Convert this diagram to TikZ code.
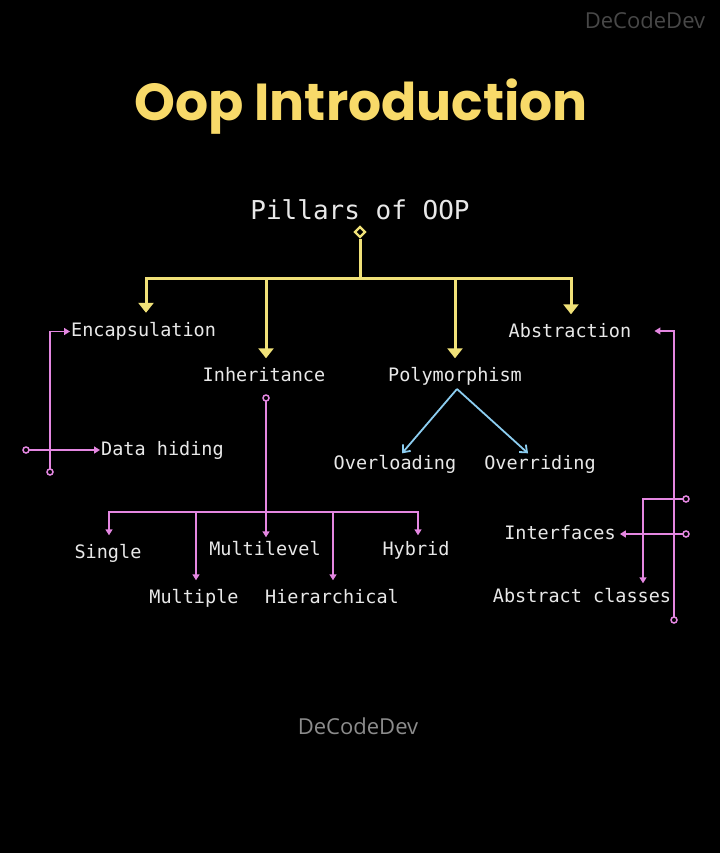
\documentclass[tikz,border=0pt]{standalone}
\usepackage{fontspec}
\usetikzlibrary{arrows.meta,shapes.geometric,calc}
\newfontfamily\monof{DejaVu Sans Mono}
\newfontfamily\titlef{Poppins}
\newfontfamily\wmf{Open Sans}
\definecolor{ttl}{RGB}{248,218,105}
\definecolor{yl}{RGB}{240,225,120}
\definecolor{pk}{RGB}{228,135,225}
\definecolor{bl}{RGB}{140,205,240}
\definecolor{tx}{RGB}{232,232,232}
\tikzset{
  lbl/.style={text=tx,font=\monof\fontsize{18.5}{21}\selectfont,inner sep=1pt,text height=13pt,text depth=4pt,yshift=-2pt},
  yline/.style={draw=yl,line width=3pt},
  yarr/.style={draw=yl,line width=3pt,-{Triangle[length=10pt,width=15pt]}},
  pline/.style={draw=pk,line width=1.8pt},
  parr/.style={draw=pk,line width=1.8pt,-{Triangle[length=6pt,width=7pt]}},
  barr/.style={draw=bl,line width=1.8pt,-{Straight Barb[length=6pt,width=10pt]}},
  pdot/.style={draw=pk,line width=1.5pt,fill=black},
}
\begin{document}
\begin{tikzpicture}[x=1pt,y=-1pt]
\fill[black] (0,0) rectangle (720,853);
\useasboundingbox (0,0) rectangle (720,853);
% watermarks and title
\node[text={rgb,255:red,72;green,72;blue,72},font=\wmf\fontsize{22}{26}\selectfont] (wm1) at (645,20) {DeCodeDev};
\node[text={rgb,255:red,140;green,140;blue,140},font=\wmf\fontsize{22}{26}\selectfont] (wm2) at (358,726) {DeCodeDev};
\node[text=ttl,font=\titlef\bfseries\fontsize{52}{58}\selectfont] (title) at (361,107) {Oop Introduction};
% root
\node[lbl,font=\monof\fontsize{26}{30}\selectfont,text height=19pt,text depth=5pt] (root) at (360,210) {Pillars of OOP};
\node[diamond,draw=yl,line width=2.2pt,fill=black,minimum size=11pt,inner sep=0pt] (dia) at (360,232) {};
\coordinate (ybus) at (360,278);
% pillars
\node[lbl,anchor=west] (enc) at (70,329.5) {Encapsulation};
\node[lbl] (inh) at (264,375) {Inheritance};
\node[lbl] (poly) at (455,375) {Polymorphism};
\node[lbl] (abs) at (570,331) {Abstraction};
\draw[yline] (dia.south) -- (ybus);
\draw[yarr] (ybus) -| ($(enc.west|-enc.north)+(76,-9)$);
\draw[yarr] (ybus) -| ($(inh.north)+(2,-9)$);
\draw[yarr] (ybus) -| ($(poly.north)+(0,-9)$);
\draw[yarr] (ybus) -| ($(abs.north)+(1,-9)$);
% encapsulation
\node[lbl,anchor=west] (dh) at (100,449) {Data hiding};
\coordinate (encC) at (50,472);
\coordinate (dhC) at (26,450);
\draw[parr] (encC) |- (enc.west);
\draw[parr] (dhC) -- (dh.west|-dhC);
\fill[pdot] (encC) circle (3);
\fill[pdot] (dhC) circle (3);
% inheritance
\node[lbl] (single) at (108,552) {Single};
\node[lbl] (mult) at (194,597) {Multiple};
\node[lbl] (mlev) at (265,549) {Multilevel};
\node[lbl] (hier) at (332,597) {Hierarchical};
\node[lbl] (hyb) at (416,549) {Hybrid};
\coordinate (ihC) at (266,398);
\coordinate (ibus) at (266,512);
\draw[pline] (ihC) -- (ibus);
\draw[parr] (ibus) -| ($(single.north)+(1,-9)$);
\draw[parr] (ibus) -| ($(mult.north)+(2,-9)$);
\draw[parr] (ibus) -- ($(ibus|-mlev.north)+(0,-4)$);
\draw[parr] (ibus) -| ($(hier.north)+(1,-9)$);
\draw[parr] (ibus) -| ($(hyb.north)+(2,-6)$);
\fill[pdot] (ihC) circle (3);
% polymorphism
\node[lbl] (ovl) at (395,463) {Overloading};
\node[lbl] (ovr) at (540,463) {Overriding};
\coordinate (pm) at (457,389);
\draw[barr] (pm) -- ($(ovl.north)+(7,-2)$);
\draw[barr] (pm) -- ($(ovr.north)+(-12,-2)$);
% abstraction
\node[lbl] (ifc) at (560,533) {Interfaces};
\node[lbl] (ac) at (582,596) {Abstract classes};
\coordinate (abC) at (674,620);
\coordinate (ifC) at (686,534);
\coordinate (acC) at (686,499);
\draw[parr] (abC) |- ($(abs.east|-abC)+(22,-289)$);
\draw[parr] (ifC) -- ($(ifc.east|-ifC)+(3,0)$);
\draw[parr] (acC) -| ($(ac.north)+(61,-5)$);
\fill[pdot] (abC) circle (3);
\fill[pdot] (ifC) circle (3);
\fill[pdot] (acC) circle (3);
\end{tikzpicture}
\end{document}
